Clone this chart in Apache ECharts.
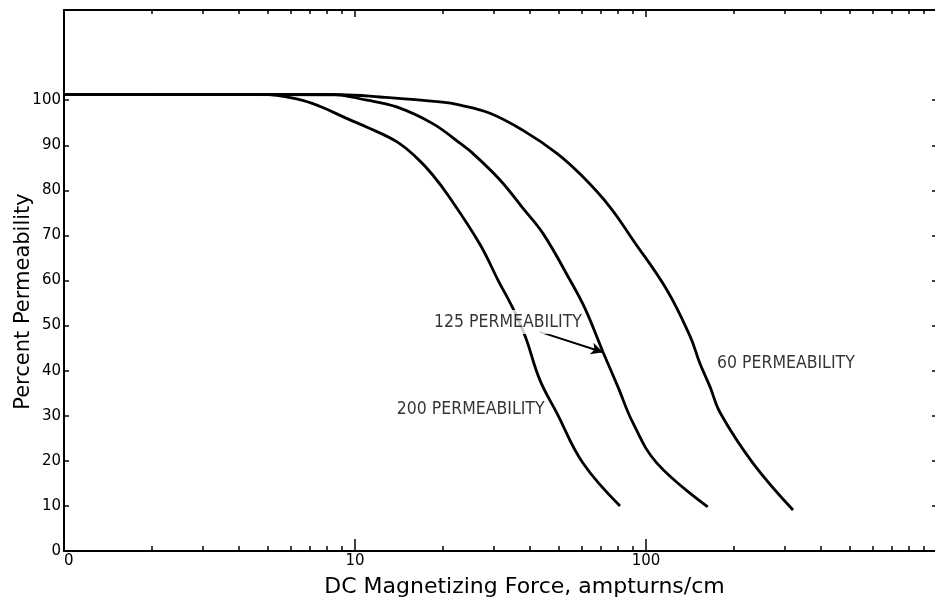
<!DOCTYPE html>
<html>
<head>
<meta charset="utf-8">
<script src="https://cdn.jsdelivr.net/npm/echarts@6/dist/echarts.min.js"></script>
<style>html,body{margin:0;padding:0;background:#fff}#c{width:935px;height:598px}</style>
</head>
<body>
<div id="c"></div>
<script>
// ---- data (x in ampturns/cm, y in percent permeability) ----
const x200 = [1, 4.8, 6.4, 7.6, 9.4, 11.0, 13.9, 16.3, 18.5, 21.2, 26.9, 31.0, 34.9, 38.5, 43.2, 49.4, 60.7, 81.4];
const y200 = [101.3, 101.3, 100.2, 98.6, 95.9, 94.0, 90.8, 87.2, 83.4, 78.3, 68.0, 60.1, 53.8, 47.5, 37.9, 30.6, 19.5, 10.0];
const x125 = [1, 8.2, 11.0, 13.9, 18.5, 23.0, 25.4, 31.5, 37.8, 44.3, 54.8, 61.7, 71.2, 80.1, 90.2, 109, 163];
const y125 = [101.3, 101.3, 100.0, 98.5, 94.8, 90.4, 88.2, 82.3, 76.0, 70.4, 60.1, 53.8, 44.1, 36.4, 28.4, 19.5, 9.8];
const x60 = [1, 8.9, 12.2, 19.6, 23.0, 29.1, 37.8, 49.4, 60.7, 75.2, 90.2, 118, 142, 153, 166, 180, 233, 320];
const y60 = [101.3, 101.2, 100.7, 99.6, 98.9, 97.1, 93.3, 88.2, 83.0, 76.3, 69.0, 57.9, 47.5, 41.7, 36.4, 30.6, 19.5, 9.1];

const xMajorTicks = [10, 100];
const xMinorTicks = [2,3,4,5,6,7,8,9,20,30,40,50,60,70,80,90,200,300,400,500,600,700,800,900];
const xLabels = [1, 10, 100];
const yTicks = [10,20,30,40,50,60,70,80,90,100];
const yLabels = [0,10,20,30,40,50,60,70,80,90,100];

const annoNames = ['125 PERMEABILITY', '200 PERMEABILITY', '60 PERMEABILITY'];
const annoX = [18.4, 13.7, 172.6];
const annoY = [50.8, 31.5, 41.7];
const arrowFrom = [43.2, 48.6];
const arrowTo = [71.2, 44.1];

const pairs = (xs, ys) => xs.map((x, i) => [x, ys[i]]);
const black = '#000';
const tickFont = {color: black, fontSize: 15, fontFamily: 'DejaVu Sans'};
const annoFont = "'Liberation Sans Narrow', 'DejaVu Sans Condensed', 'Liberation Sans', sans-serif";

function logAxis(pos, opts) {
  return Object.assign({
    type: 'log', logBase: 10, min: 1, max: 1000, position: pos,
    axisLine: {show: true, lineStyle: {color: black, width: 2}},
    splitLine: {show: false},
    axisLabel: {show: false},
    axisTick: {show: false}
  }, opts);
}

const chart = echarts.init(document.getElementById('c'), null, {renderer: 'canvas'});
chart.setOption({
  animation: false,
  backgroundColor: '#fff',
  grid: {left: 64, right: -2, top: 10, bottom: 47, containLabel: false, outerBoundsMode: 'none'},
  xAxis: [
    logAxis('bottom', {
      name: 'DC Magnetizing Force, ampturns/cm', nameLocation: 'middle', nameGap: 25,
      nameTextStyle: {color: black, fontSize: 22, fontFamily: 'DejaVu Sans', padding: [0, 0, 0, 48]},
      axisTick: {show: true, inside: true, length: 5, customValues: xMinorTicks, lineStyle: {color: black, width: 1.5}},
      axisLabel: {show: true, customValues: xLabels, margin: 3, alignMinLabel: 'left', ...tickFont,
        formatter: v => (v === 1 ? '0' : String(v))}
    }),
    logAxis('bottom', {
      axisLine: {show: false},
      axisTick: {show: true, inside: true, length: 12, customValues: xMajorTicks, lineStyle: {color: black, width: 1.5}}
    }),
    logAxis('top', {
      axisTick: {show: true, inside: true, length: 4, customValues: xMinorTicks, lineStyle: {color: black, width: 1.5}}
    }),
    logAxis('top', {
      axisLine: {show: false},
      axisTick: {show: true, inside: true, length: 7, customValues: xMajorTicks, lineStyle: {color: black, width: 1.5}}
    })
  ],
  yAxis: [
    {
      type: 'value', min: 0, max: 120, interval: 10, position: 'left',
      name: 'Percent Permeability', nameLocation: 'middle', nameGap: 30, nameMoveOverlap: false,
      nameTextStyle: {color: black, fontSize: 21, fontFamily: 'DejaVu Sans', padding: [0, 42, 0, 0]},
      axisLine: {show: true, lineStyle: {color: black, width: 2}},
      splitLine: {show: false},
      axisTick: {show: true, inside: true, length: 5, customValues: yTicks, lineStyle: {color: black, width: 1.5}},
      axisLabel: {show: true, customValues: yLabels, margin: 3, ...tickFont}
    },
    {
      type: 'value', min: 0, max: 120, interval: 10, position: 'right',
      axisLine: {show: true, lineStyle: {color: black, width: 2}},
      splitLine: {show: false},
      axisTick: {show: true, inside: true, length: 5, customValues: yTicks, lineStyle: {color: black, width: 1.5}},
      axisLabel: {show: false}
    }
  ],
  series: [
    {type: 'line', name: '200', data: pairs(x200, y200), smooth: 0.4, symbol: 'none',
      lineStyle: {color: black, width: 2.8}},
    {type: 'line', name: '125', data: pairs(x125, y125), smooth: 0.4, symbol: 'none',
      lineStyle: {color: black, width: 2.8},
      markLine: {silent: true, symbol: ['none', 'arrow'], symbolSize: [9, 12],
        lineStyle: {color: black, width: 2, type: 'solid'}, label: {show: false},
        data: [[{coord: arrowFrom}, {coord: arrowTo}]]}},
    {type: 'line', name: '60', data: pairs(x60, y60), smooth: 0.4, symbol: 'none',
      lineStyle: {color: black, width: 2.8}},
    {type: 'scatter', name: 'labels', z: 10, symbolSize: 0,
      data: annoNames.map((n, i) => ({value: [annoX[i], annoY[i]], name: n})),
      label: {show: true, position: 'right', distance: 0, formatter: p => p.name,
        color: black, fontSize: 17.5, fontFamily: annoFont,
        backgroundColor: '#fff', padding: [3, 2]}}
  ]
});
</script>
</body>
</html>
